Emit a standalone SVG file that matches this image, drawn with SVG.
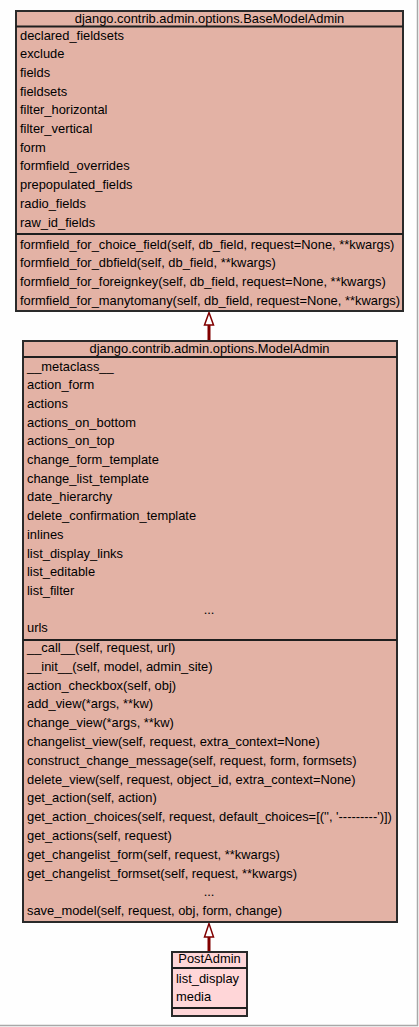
<svg xmlns="http://www.w3.org/2000/svg" width="419" height="1027" viewBox="0 0 419 1027">
<style>
text{font-family:"Liberation Sans",Arial,sans-serif;font-size:12.9px;fill:#000}
.t{text-anchor:middle}
.box{fill:#e3b2a5;stroke:#2a2a2a;stroke-width:2}
.pbox{fill:#ffd6d8;stroke:#2a2a2a;stroke-width:2}
.sep{stroke:#1e1e1e;stroke-width:2}
.edge{stroke:#800000;stroke-width:3;fill:none}
.tri{fill:#fff;stroke:#800000;stroke-width:1.5}
</style>
<rect x="0" y="0" width="419" height="1027" fill="#fefefe"/>
<path d="M417.5,0V1025.5H0" fill="none" stroke="#a8a8a8" stroke-width="1.5"/>
<g id="connectors">
<line class="edge" x1="209" y1="325" x2="209" y2="341"/>
<polygon class="tri" points="209,312.5 204.5,325 213.5,325"/>
<line class="edge" x1="209" y1="937" x2="209" y2="952"/>
<polygon class="tri" points="209,923.5 204.5,937 213.5,937"/>
</g>
<g id="BaseModelAdmin">
<rect class="box" x="16" y="11" width="387" height="300"/>
<line class="sep" x1="16" y1="26.5" x2="403" y2="26.5"/>
<line class="sep" x1="16" y1="234" x2="403" y2="234"/>
<text class="t" x="209.5" y="22.5">django.contrib.admin.options.BaseModelAdmin</text>
<text x="20" y="39.5">declared_fieldsets</text>
<text x="20" y="58.2">exclude</text>
<text x="20" y="76.9">fields</text>
<text x="20" y="95.6">fieldsets</text>
<text x="20" y="114.3">filter_horizontal</text>
<text x="20" y="133">filter_vertical</text>
<text x="20" y="151.7">form</text>
<text x="20" y="170.4">formfield_overrides</text>
<text x="20" y="189.1">prepopulated_fields</text>
<text x="20" y="207.8">radio_fields</text>
<text x="20" y="226.5">raw_id_fields</text>
<text x="20" y="248.5">formfield_for_choice_field(self, db_field, request=None, **kwargs)</text>
<text x="20" y="267.2">formfield_for_dbfield(self, db_field, **kwargs)</text>
<text x="20" y="285.9">formfield_for_foreignkey(self, db_field, request=None, **kwargs)</text>
<text x="20" y="304.6">formfield_for_manytomany(self, db_field, request=None, **kwargs)</text>
</g>
<g id="ModelAdmin">
<rect class="box" x="23" y="341" width="374" height="581"/>
<line class="sep" x1="23" y1="357" x2="397" y2="357"/>
<line class="sep" x1="23" y1="640" x2="397" y2="640"/>
<text class="t" x="209.5" y="352.5">django.contrib.admin.options.ModelAdmin</text>
<text x="27" y="370.5">__metaclass__</text>
<text x="27" y="389.2">action_form</text>
<text x="27" y="407.9">actions</text>
<text x="27" y="426.6">actions_on_bottom</text>
<text x="27" y="445.3">actions_on_top</text>
<text x="27" y="464">change_form_template</text>
<text x="27" y="482.7">change_list_template</text>
<text x="27" y="501.4">date_hierarchy</text>
<text x="27" y="520.1">delete_confirmation_template</text>
<text x="27" y="538.8">inlines</text>
<text x="27" y="557.5">list_display_links</text>
<text x="27" y="576.2">list_editable</text>
<text x="27" y="594.9">list_filter</text>
<text class="t" x="209" y="613.6">...</text>
<text x="27" y="632.3">urls</text>
<text x="27" y="652">__call__(self, request, url)</text>
<text x="27" y="670.8">__init__(self, model, admin_site)</text>
<text x="27" y="689.6">action_checkbox(self, obj)</text>
<text x="27" y="708.4">add_view(*args, **kw)</text>
<text x="27" y="727.2">change_view(*args, **kw)</text>
<text x="27" y="746">changelist_view(self, request, extra_context=None)</text>
<text x="27" y="764.8">construct_change_message(self, request, form, formsets)</text>
<text x="27" y="783.6">delete_view(self, request, object_id, extra_context=None)</text>
<text x="27" y="802.4">get_action(self, action)</text>
<text x="27" y="821.2">get_action_choices(self, request, default_choices=[('', '---------')])</text>
<text x="27" y="840">get_actions(self, request)</text>
<text x="27" y="858.8">get_changelist_form(self, request, **kwargs)</text>
<text x="27" y="877.6">get_changelist_formset(self, request, **kwargs)</text>
<text class="t" x="209" y="896.4">...</text>
<text x="27" y="915.2">save_model(self, request, obj, form, change)</text>
</g>
<g id="PostAdmin">
<rect class="pbox" x="172" y="952" width="75" height="64"/>
<line class="sep" x1="172" y1="968" x2="247" y2="968"/>
<line class="sep" x1="172" y1="1008" x2="247" y2="1008"/>
<text class="t" x="209.5" y="963">PostAdmin</text>
<text x="176" y="982.5">list_display</text>
<text x="176" y="1001">media</text>
</g>
</svg>
